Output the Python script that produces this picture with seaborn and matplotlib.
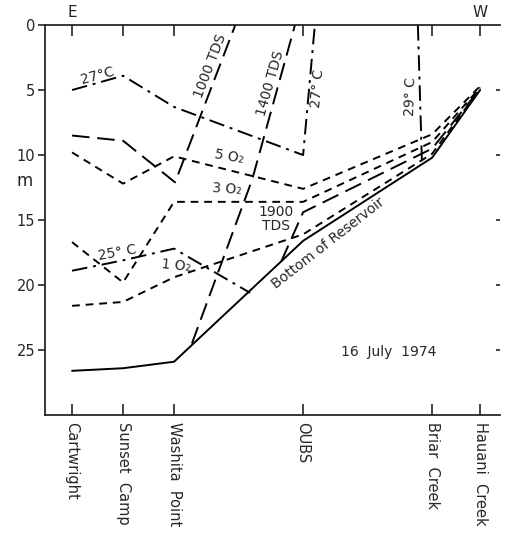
import matplotlib
matplotlib.use("Agg")
import matplotlib.pyplot as plt
import seaborn as sns

# stations along the reservoir (relative distance, E -> W)
stations = ["Cartwright", "Sunset  Camp", "Washita  Point", "OUBS", "Briar  Creek", "Hauani  Creek"]
station_x = [0, 1, 2, 4.53, 7.06, 8.0]

# depth profiles (m)
bottom_x = [0, 1, 2, 4.53, 7.06, 8.0]
bottom_y = [26.6, 26.4, 25.9, 16.6, 10.2, 5.0]

o2_5_x = [0, 1, 2, 4.53, 7.06, 8.0]
o2_5_y = [9.8, 12.2, 10.1, 12.6, 8.4, 4.7]
o2_3_x = [0, 1, 2, 4.53, 7.06, 8.0]
o2_3_y = [16.7, 19.8, 13.6, 13.6, 9.0, 4.8]
o2_1_x = [0, 1, 2, 4.53, 7.06, 8.0]
o2_1_y = [21.6, 21.3, 19.4, 16.1, 9.9, 4.9]

t27_x = [0, 1, 2, 4.53, 4.76]
t27_y = [5.0, 3.9, 6.3, 10.0, 0.0]
t25_x = [0, 1, 2, 3.49]
t25_y = [18.9, 18.1, 17.2, 20.6]
t29_x = [6.78, 6.86]
t29_y = [0.0, 10.6]

tds1000_x = [0, 1, 2.02, 3.2]
tds1000_y = [8.5, 8.9, 12.1, 0.0]
tds1400_x = [2.35, 3.53, 4.37]
tds1400_y = [24.5, 11.9, 0.0]
tds1900_x = [4.1, 4.53, 7.06, 8.0]
tds1900_y = [18.2, 14.4, 9.5, 4.9]

sns.set_style("ticks")
plt.rcParams["font.family"] = ["DejaVu Sans"]

fig = plt.figure(figsize=(5.07, 5.34), dpi=100)
ax = fig.add_axes([0.0888, 0.2228, 0.8974, 0.7303])

dashdot = (0, (8, 3, 1.5, 3))
longdash = (0, (9, 4))
shortdash = (0, (4, 3))
lw = 1.4

series = [
    (bottom_x, bottom_y, "-"),
    (o2_5_x, o2_5_y, shortdash),
    (o2_3_x, o2_3_y, shortdash),
    (o2_1_x, o2_1_y, shortdash),
    (t27_x, t27_y, dashdot),
    (t25_x, t25_y, dashdot),
    (t29_x, t29_y, dashdot),
    (tds1000_x, tds1000_y, longdash),
    (tds1400_x, tds1400_y, longdash),
    (tds1900_x, tds1900_y, longdash),
]
for xs, ys, ls in series:
    sns.lineplot(x=xs, y=ys, ax=ax, color="black", lw=lw, linestyle=ls,
                 sort=False, estimator=None)

ax.set_xlim(-0.53, 8.39)
ax.set_ylim(30, 0)

ax.set_yticks([0, 5, 10, 15, 20, 25])
ax.tick_params(axis="y", direction="out", length=5, width=1.2, labelsize=10.5, pad=2)
ax.set_xticks(station_x)
ax.set_xticklabels(stations, rotation=-90, va="top", ha="center", fontsize=10.5)
ax.tick_params(axis="x", direction="in", length=8, width=1.2, top=True, pad=5)
ax.spines["right"].set_visible(False)
for s in ["left", "top", "bottom"]:
    ax.spines[s].set_linewidth(1.3)

ax2 = ax.twinx()
ax2.set_ylim(30, 0)
ax2.set_yticks([5, 10, 15, 20, 25])
ax2.tick_params(axis="y", direction="in", length=3, width=1.2, labelright=False)
for s in ax2.spines.values():
    s.set_visible(False)

ax.text(-0.045, 0.6, "m", transform=ax.transAxes, fontsize=12, ha="center", va="center")
ax.text(0, -0.4, "E", fontsize=11, ha="center", va="bottom", clip_on=False)
ax.text(8.0, -0.4, "W", fontsize=11, ha="center", va="bottom", clip_on=False)

fs = 10
labels = [
    ("27°C", 0.49, 3.9, 15),
    ("1000 TDS", 2.71, 3.15, 69),
    ("1400 TDS", 3.88, 4.46, 74),
    ("27° C", 4.82, 4.85, 85),
    ("29° C", 6.63, 5.46, 88),
    ("5 O₂", 3.08, 10.15, -10),
    ("3 O₂", 3.04, 12.6, -4),
    ("1 O₂", 2.04, 18.5, -6),
    ("25° C", 0.88, 17.5, 10),
    ("1900\nTDS", 4.0, 14.9, 0),
    ("Bottom of Reservoir", 5.02, 16.8, 38),
    ("16  July  1974", 6.2, 25.15, 0),
]
for txt, x, y, rot in labels:
    ax.text(x, y, txt, fontsize=fs, rotation=rot, rotation_mode="anchor",
            ha="center", va="center", linespacing=1.0)

plt.savefig("out.png", dpi=100)
